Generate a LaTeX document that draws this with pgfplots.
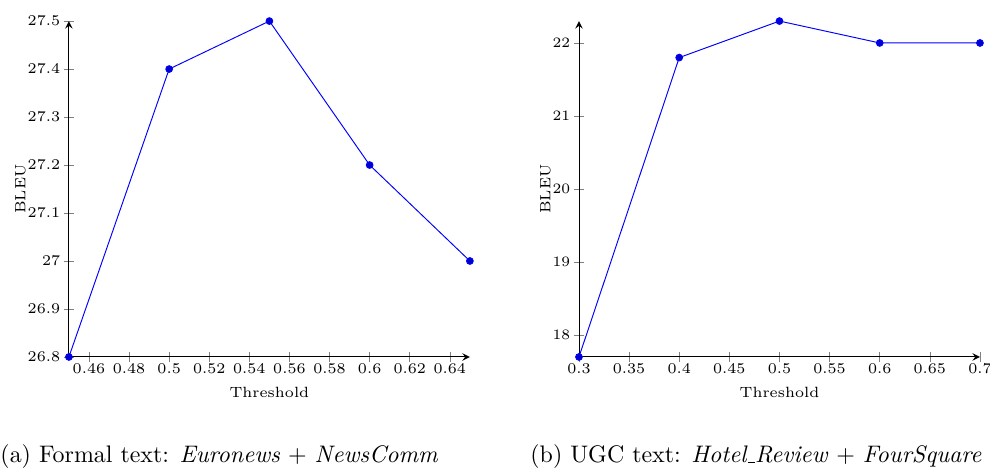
\documentclass[border=0pt]{standalone}
\usepackage{pgfplots}
\pgfplotsset{compat=1.18}

\newcommand{\shortus}{\leavevmode\kern.06em\vbox{\hrule width.3em}}

\pgfplotsset{
  bleuplot/.style={
    scale only axis,
    width=167.6pt, height=140.4pt,
    axis lines=left,
    ylabel={BLEU},
    xlabel={Threshold},
    tick label style={font=\fontsize{6.2}{7}\selectfont},
    xticklabel style={yshift=3pt},
    yticklabel style={xshift=2pt},
    label style={font=\fontsize{6.2}{7}\selectfont},
    xlabel style={yshift=1.4pt},
    ylabel shift=-6pt,
    every axis plot/.append style={blue, mark=*, mark size=1.4pt, mark options={fill=blue}},
    clip=false,
  }
}

\begin{document}
\begin{tikzpicture}
  \path[use as bounding box] (-28.8pt,-46.4pt) rectangle (385pt,149.2pt);
  \begin{axis}[bleuplot,
      xmin=0.45, xmax=0.65, ymin=26.8, ymax=27.5,
      xtick={0.46,0.48,...,0.64},
      xticklabels={0.46,0.48,0.5,0.52,0.54,0.56,0.58,0.6,0.62,0.64},
      ytick={26.8,26.9,...,27.5},
      yticklabels={26.8,26.9,27,27.1,27.2,27.3,27.4,27.5},
    ]
    \addplot coordinates {(0.45,26.8) (0.5,27.4) (0.55,27.5) (0.6,27.2) (0.65,27.0)};
  \end{axis}
  \begin{axis}[bleuplot, xshift=213.2pt,
      xmin=0.3, xmax=0.7, ymin=17.7, ymax=22.3,
      xtick={0.3,0.35,...,0.7},
      xticklabels={0.3,0.35,0.4,0.45,0.5,0.55,0.6,0.65,0.7},
      ytick={18,19,20,21,22},
    ]
    \addplot coordinates {(0.3,17.7) (0.4,21.8) (0.5,22.3) (0.6,22.0) (0.7,22.0)};
  \end{axis}
  \node[anchor=base west, inner sep=0pt, font=\fontsize{10}{12}\selectfont] at (-28.8pt,-44.3pt)
    {(a) Formal text: \textit{Euronews} + \textit{NewsComm}};
  \node[anchor=base west, inner sep=0pt, font=\fontsize{10}{12}\selectfont] at (192.7pt,-44.3pt)
    {(b) UGC text: \textit{Hotel\shortus Review} + \textit{FourSquare}};
\end{tikzpicture}
\end{document}
